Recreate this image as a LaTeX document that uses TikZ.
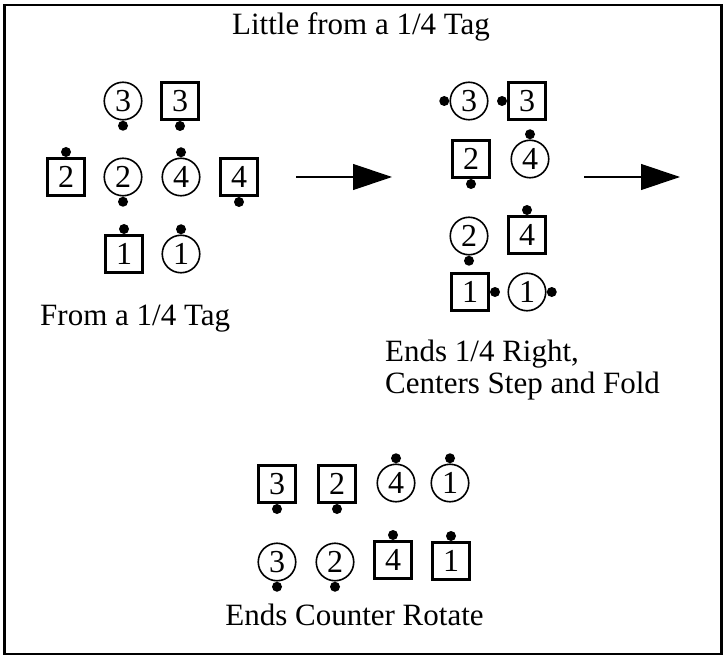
\documentclass[tikz,border=0pt]{standalone}
\usepackage{fontspec}
\setmainfont{Liberation Serif}
\usetikzlibrary{positioning,arrows.meta}
\tikzset{%
    boy/.style={%
        rectangle, draw, line width=2.6pt, minimum size=37pt, inner sep=0pt, font=\fontsize{32}{32}\selectfont
    },
    girl/.style={%
        circle, draw, line width=1.6pt, minimum size=37.5pt, inner sep=0pt, font=\fontsize{32}{32}\selectfont
    },
    nose/.style={%
        circle, fill=black, minimum size=10pt, inner sep=0pt
    },
    caption/.style={%
        inner sep=0pt, font=\fontsize{31}{31.6}\selectfont
    },
    move/.style={%
        line width=1.2pt, -{Triangle[length=39pt,width=26pt]}
    },
}

\begin{document}
\begin{tikzpicture}[x=1pt,y=-1pt]

    \useasboundingbox (0,0) rectangle (723,655);
    \draw[line width=2.6pt] (4.5,5) rectangle (721.5,654);

    \node[caption, anchor=base] (title) at (361,35) {Little from a 1/4 Tag};

    % from a 1/4 tag
    \begin{scope}
      \node[girl] (tagg3) at (123,101) {3};
      \node[nose, below=0pt of tagg3] (tagg3n) {};
      \node[boy] (tagb3) at (180,101) {3};
      \node[nose, below=0pt of tagb3] (tagb3n) {};
      \node[boy] (tagb2) at (66,177) {2};
      \node[nose, above=0pt of tagb2] (tagb2n) {};
      \node[girl] (tagg2) at (123,177) {2};
      \node[nose, below=0pt of tagg2] (tagg2n) {};
      \node[girl] (tagg4) at (181,177) {4};
      \node[nose, above=0pt of tagg4] (tagg4n) {};
      \node[boy] (tagb4) at (239,177) {4};
      \node[nose, below=0pt of tagb4] (tagb4n) {};
      \node[boy] (tagb1) at (124,254) {1};
      \node[nose, above=0pt of tagb1] (tagb1n) {};
      \node[girl] (tagg1) at (181,254) {1};
      \node[nose, above=0pt of tagg1] (tagg1n) {};
      \node[caption, anchor=base west] (taglbl) at (40,325) {From a 1/4 Tag};
    \end{scope}

    \coordinate (go1s) at (296,177);
    \coordinate (go1e) at (392,177);
    \draw[move] (go1s) -- (go1e);

    % ends 1/4 right, centers step and fold
    \begin{scope}
      \node[girl] (foldg3) at (469,101) {3};
      \node[nose, left=0pt of foldg3] (foldg3n) {};
      \node[boy] (foldb3) at (527,101) {3};
      \node[nose, left=0pt of foldb3] (foldb3n) {};
      \node[boy] (foldb2) at (471,159) {2};
      \node[nose, below=0pt of foldb2] (foldb2n) {};
      \node[girl] (foldg4) at (530,159) {4};
      \node[nose, above=0pt of foldg4] (foldg4n) {};
      \node[girl] (foldg2) at (469,236) {2};
      \node[nose, below=0pt of foldg2] (foldg2n) {};
      \node[boy] (foldb4) at (527,235) {4};
      \node[nose, above=0pt of foldb4] (foldb4n) {};
      \node[boy] (foldb1) at (470,292) {1};
      \node[nose, right=0pt of foldb1] (foldb1n) {};
      \node[girl] (foldg1) at (527,292) {1};
      \node[nose, right=0pt of foldg1] (foldg1n) {};
      \node[caption, anchor=base west, align=left] (foldlbl) at (385,393.3) {Ends 1/4 Right,\\Centers Step and Fold};
    \end{scope}

    \coordinate (go2s) at (584,177);
    \coordinate (go2e) at (680,177);
    \draw[move] (go2s) -- (go2e);

    % ends counter rotate
    \begin{scope}
      \node[boy] (rotb3) at (277,484) {3};
      \node[nose, below=0pt of rotb3] (rotb3n) {};
      \node[boy] (rotb2) at (337,484) {2};
      \node[nose, below=0pt of rotb2] (rotb2n) {};
      \node[girl] (rotg4) at (396,483) {4};
      \node[nose, above=0pt of rotg4] (rotg4n) {};
      \node[girl] (rotg1) at (450,483) {1};
      \node[nose, above=0pt of rotg1] (rotg1n) {};
      \node[girl] (rotg3) at (277,562) {3};
      \node[nose, below=0pt of rotg3] (rotg3n) {};
      \node[girl] (rotg2) at (335,562) {2};
      \node[nose, below=0pt of rotg2] (rotg2n) {};
      \node[boy] (rotb4) at (393,560) {4};
      \node[nose, above=0pt of rotb4] (rotb4n) {};
      \node[boy] (rotb1) at (451,561) {1};
      \node[nose, above=0pt of rotb1] (rotb1n) {};
      \node[caption, anchor=base] (rotlbl) at (354.5,625.7) {Ends Counter Rotate};
    \end{scope}

  \end{tikzpicture}
\end{document}
